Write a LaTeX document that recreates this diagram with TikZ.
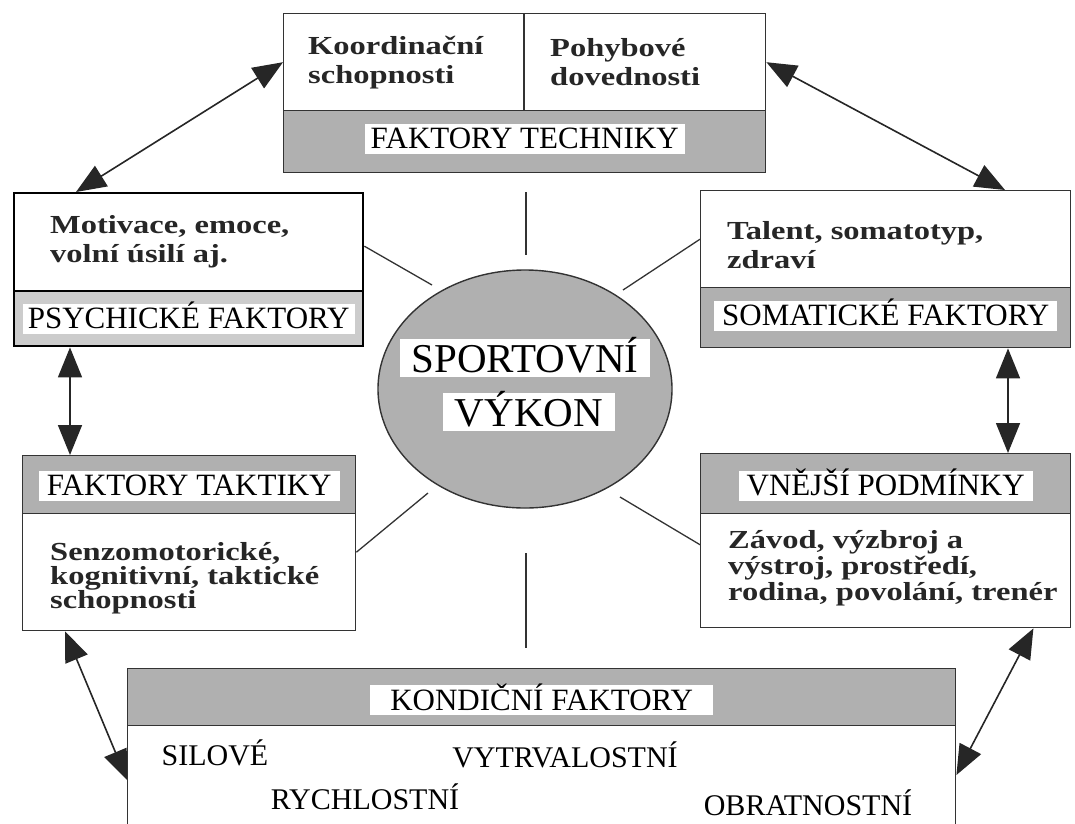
\documentclass[tikz,border=0pt]{standalone}
\usepackage{fontspec}
\setmainfont{Liberation Serif}
\newfontfamily\bodyfont{Liberation Serif}[FakeStretch=1.25]
\usetikzlibrary{arrows.meta,shapes.geometric,positioning}

\definecolor{bandgray}{gray}{0.69}
\definecolor{lightband}{gray}{0.80}
\definecolor{linegray}{gray}{0.2}

\tikzset{
  upperbox/.style={draw=linegray, line width=1.4pt, fill=white, inner sep=0pt, anchor=north west},
  bandbox/.style={draw=linegray, line width=1.4pt, fill=bandgray, inner sep=0pt, anchor=north west},
  bandlabel/.style={fill=white, inner xsep=8pt, inner ysep=4pt, text height=21pt, text depth=1pt,
    font=\fontsize{31}{33}\selectfont},
  bodytext/.style={anchor=west, align=left, inner sep=0pt, text=black!85,
    font=\bodyfont\bfseries\fontsize{26}{29}\selectfont},
  itemtext/.style={inner sep=0pt, font=\fontsize{30}{32}\selectfont},
  dblarrow/.style={{Triangle[length=30pt,width=24pt]}-{Triangle[length=30pt,width=24pt]},
    draw=black!85, line width=1.6pt},
  spoke/.style={draw=linegray, line width=1.3pt}
}

\begin{document}
\begin{tikzpicture}[x=1pt, y=-1pt]
    \useasboundingbox (0,0) rectangle (1075,823);
    \clip (0,0) rectangle (1075,823);

    % Faktory techniky
    \node[upperbox, minimum width=482pt, minimum height=97pt] (techT) at (283,13) {};
    \node[bandbox, minimum width=482pt, minimum height=62pt] (techB) at (283,110) {};
    \draw[draw=linegray, line width=1.4pt] ([xshift=241pt]techT.north west) -- ([xshift=241pt]techT.south west);
    \node[bandlabel, inner xsep=6pt] (techL) at ([yshift=3pt]techB.center) {FAKTORY TECHNIKY};
    \node[bodytext] at ([xshift=25pt]techT.west) {Koordinační\\schopnosti};
    \node[bodytext] at ([xshift=267pt]techT.west) {Pohybové\\dovednosti};

    % Psychicke faktory
    \node[upperbox, draw=black, line width=2.4pt, minimum width=349pt, minimum height=98pt] (psyT) at (13,192) {};
    \node[bandbox, draw=black, line width=2.4pt, fill=lightband, minimum width=349pt, minimum height=55pt] (psyB) at (13,290) {};
    \node[bandlabel, inner xsep=5pt] (psyL) at (psyB.center) {PSYCHICKÉ FAKTORY};
    \node[bodytext] at ([xshift=37pt]psyT.west) {Motivace, emoce,\\volní úsilí aj.};

    % Somaticke faktory
    \node[upperbox, minimum width=370pt, minimum height=97pt] (somT) at (700,190) {};
    \node[bandbox, minimum width=370pt, minimum height=60pt] (somB) at (700,287) {};
    \node[bandlabel] (somL) at ([yshift=2pt]somB.center) {SOMATICKÉ FAKTORY};
    \node[bodytext] at ([xshift=27pt, yshift=-6pt]somT.west) {Talent, somatotyp,\\zdraví};

    % Faktory taktiky
    \node[bandbox, minimum width=333pt, minimum height=58pt] (takB) at (22,455) {};
    \node[upperbox, minimum width=333pt, minimum height=117pt] (takT) at (22,513) {};
    \node[bandlabel] (takL) at ([yshift=-1pt]takB.center) {FAKTORY TAKTIKY};
    \node[bodytext, font=\bodyfont\bfseries\fontsize{26}{24}\selectfont] at ([xshift=28pt, yshift=-6pt]takT.west)
        {Senzomotorické,\\kognitivní, taktické\\schopnosti};

    % Vnejsi podminky
    \node[bandbox, minimum width=370pt, minimum height=60pt] (extB) at (700,453) {};
    \node[upperbox, minimum width=370pt, minimum height=114pt] (extT) at (700,513) {};
    \node[bandlabel] (extL) at ([yshift=-2pt]extB.center) {VNĚJŠÍ PODMÍNKY};
    \node[bodytext, font=\bodyfont\bfseries\fontsize{26}{26}\selectfont] at ([xshift=28pt, yshift=2pt]extT.west)
        {Závod, výzbroj a\\výstroj, prostředí,\\rodina, povolání, trenér};

    % Kondicni faktory
    \node[bandbox, minimum width=828pt, minimum height=57pt] (kondB) at (127,668) {};
    \node[upperbox, minimum width=828pt, minimum height=130pt] (kondT) at (127,725) {};
    \node[bandlabel, inner xsep=20pt] (kondL) at ([yshift=-3pt]kondB.center) {KONDIČNÍ FAKTORY};
    \node[itemtext] (silove) at (215,753) {SILOVÉ};
    \node[itemtext] (vytrval) at (565,755) {VYTRVALOSTNÍ};
    \node[itemtext] (rychlost) at (365,797) {RYCHLOSTNÍ};
    \node[itemtext] (obratnost) at (808,803) {OBRATNOSTNÍ};

    % Sportovni vykon
    \node[ellipse, draw=linegray, line width=1.4pt, fill=bandgray, minimum width=294pt, minimum height=238pt,
        inner sep=0pt] (vykon) at (525,389) {};
    \node[bandlabel, inner xsep=12pt, text height=29pt, font=\fontsize{41}{43}\selectfont] (vykonA) at (525,358) {SPORTOVNÍ};
    \node[bandlabel, inner xsep=12pt, text height=29pt, font=\fontsize{41}{43}\selectfont] (vykonB) at (529,412) {VÝKON};

    % Spokes round the centre
    \coordinate (spN1) at (526,192);
    \coordinate (spN2) at (526,255);
    \coordinate (spNW) at (432,285);
    \coordinate (spNE) at (623,290);
    \coordinate (spSW) at (428,493);
    \coordinate (spSE) at (620,497);
    \coordinate (spS1) at (526,553);
    \coordinate (spS2) at (526,648);
    \draw[spoke] (spN1) -- (spN2);
    \draw[spoke] (spS1) -- (spS2);
    \draw[spoke] ([yshift=-4pt]psyT.east) -- (spNW);
    \draw[spoke] (somT.west) -- (spNE);
    \draw[spoke] ([yshift=20pt]takT.east) -- (spSW);
    \draw[spoke] ([yshift=26pt]extT.west) -- (spSE);

    % Double arrows between the factors
    \draw[dblarrow] (techT.west) -- ([xshift=63pt]psyT.north west);
    \draw[dblarrow] (techT.east) -- ([xshift=305pt]somT.north west);
    \draw[dblarrow] ([xshift=57pt]psyB.south west) -- ([xshift=48pt]takB.north west);
    \draw[dblarrow] ([xshift=308pt]somB.south west) -- ([xshift=308pt]extB.north west);
    \draw[dblarrow] ([xshift=43pt]takT.south west) -- ([yshift=-55pt]kondT.north west);
    \draw[dblarrow] ([xshift=-38pt]extT.south east) -- ([yshift=-50pt]kondT.north east);
\end{tikzpicture}
\end{document}
